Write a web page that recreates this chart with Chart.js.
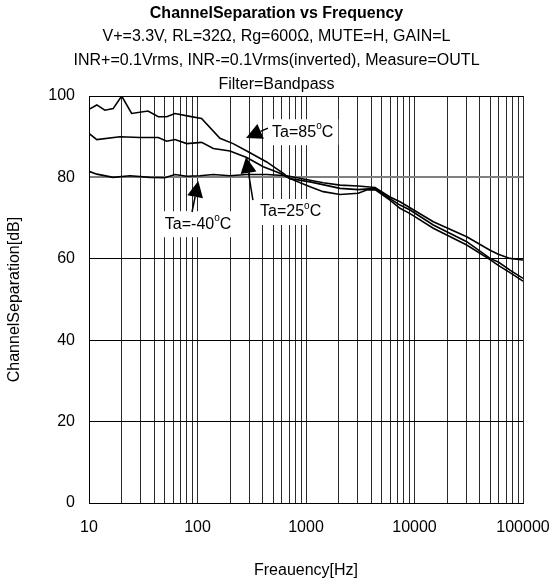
<!DOCTYPE html>
<html>
<head>
<meta charset="utf-8">
<script src="https://cdn.jsdelivr.net/npm/chart.js@4.4.1/dist/chart.umd.min.js"></script>
<style>
  html, body { margin: 0; padding: 0; background: #fff; }
  #wrap { width: 553px; height: 584px; position: relative; }
</style>
</head>
<body>
<div id="wrap"><canvas id="chartSeparation"></canvas></div>
<script>
(function() {
  'use strict';

  const FONT = '"Liberation Sans", Arial, sans-serif';

  // Ta=85°C (upper curve at low frequency)
  const freq85 = [10, 11.8, 14, 16.7, 20, 24.7, 35, 43.5, 52, 62, 85, 109, 161, 213, 293, 434, 618, 713,
    1090, 1440, 2060, 3030, 3620, 4330, 5940, 7350, 9100, 14900, 30300, 49700, 59200, 75900, 100000];
  const db85 = [96.7, 97.8, 96.5, 96.9, 100, 95.7, 96.3, 94.9, 94.9, 95.7, 95.0, 94.5, 89.6, 88.3, 86.3, 83.8, 81.0, 79.7,
    77.7, 76.5, 75.8, 76.1, 76.9, 77.0, 74.4, 72.4, 71.1, 67.5, 63.4, 59.8, 58.4, 56.6, 54.5];

  // Ta=25°C
  const freq25 = [10, 11.8, 19.3, 29.5, 43.5, 52, 62, 79.5, 109, 140, 199, 284, 404, 576, 713,
    1090, 2060, 3030, 4330, 5940, 7350, 9100, 14900, 30300, 49700, 59200, 75900, 100000];
  const db25 = [90.8, 89.3, 90.0, 89.8, 89.8, 88.9, 89.3, 88.3, 88.6, 87.1, 86.5, 84.9, 82.6, 81.0, 79.7,
    78.9, 77.3, 77.0, 77.3, 74.8, 73.2, 72.0, 68.3, 64.2, 60.1, 59.2, 57.2, 55.2];

  // Ta=-40°C
  const freqM40 = [10, 11.8, 16.7, 23.9, 36.4, 50, 62, 79.5, 105, 140, 199, 284, 434, 664,
    1090, 1440, 2060, 3030, 4330, 5940, 7350, 14900, 30300, 49700, 59200, 75900, 100000];
  const dbM40 = [81.5, 80.8, 80.0, 80.4, 80.0, 79.9, 80.7, 80.3, 80.4, 80.7, 80.4, 80.7, 80.7, 80.4,
    79.3, 78.7, 78.1, 77.9, 77.5, 75.2, 74.0, 69.1, 65.4, 62.1, 61.1, 60.1, 59.7];

  const xTicks = [10, 20, 30, 40, 50, 60, 70, 80, 90,
    100, 200, 300, 400, 500, 600, 700, 800, 900,
    1000, 2000, 3000, 4000, 5000, 6000, 7000, 8000, 9000,
    10000, 20000, 30000, 40000, 50000, 60000, 70000, 80000, 90000, 100000];
  const xLabels = [10, 100, 1000, 10000, 100000];
  const yTicks = [0, 20, 40, 60, 80, 100];

  const chartTitle = 'ChannelSeparation vs Frequency';
  const subTitles = [
    'V+=3.3V, RL=32\u03A9, Rg=600\u03A9, MUTE=H, GAIN=L',
    'INR+=0.1Vrms, INR-=0.1Vrms(inverted), Measure=OUTL',
    'Filter=Bandpass'
  ];

  // etiquetas de temperatura: texto, posicion (freq, dB), punta y cola de la flecha
  const notes = [
    { text: 'Ta=85', at: [487, 91.1], tip: [280, 89.7], tail: [446, 92.1] },
    { text: 'Ta=25', at: [377, 71.5], tip: [280, 85.0], tail: [324, 74.4] },
    { text: 'Ta=-40', at: [50, 68.5], tip: [101.7, 79.1], tail: [89, 71.5] }
  ];

  function toPoints(xs, ys) {
    return xs.map((x, i) => ({ x: x, y: ys[i] }));
  }

  const headerPlugin = {
    id: 'header',
    afterDraw(chart) {
      const ctx = chart.ctx;
      const cx = chart.width / 2;
      ctx.save();
      ctx.fillStyle = '#000';
      ctx.textAlign = 'center';
      ctx.textBaseline = 'middle';
      ctx.font = 'bold 16px ' + FONT;
      ctx.fillText(chartTitle, cx, 14);
      ctx.font = '16px ' + FONT;
      subTitles.forEach((t, i) => ctx.fillText(t, cx, 37 + i * 24));
      ctx.restore();
    }
  };

  const notesPlugin = {
    id: 'notes',
    afterDatasetsDraw(chart) {
      const ctx = chart.ctx;
      const xs = chart.scales.x;
      const ys = chart.scales.y;
      ctx.save();
      notes.forEach(n => {
        const lx = xs.getPixelForValue(n.at[0]);
        const ly = ys.getPixelForValue(n.at[1]);
        ctx.font = '16px ' + FONT;
        const w1 = ctx.measureText(n.text).width;
        ctx.font = '10px ' + FONT;
        const w2 = ctx.measureText('o').width;
        ctx.font = '16px ' + FONT;
        const w3 = ctx.measureText('C').width;
        const w = w1 + w2 + w3;

        // fondo blanco que tapa la rejilla
        ctx.fillStyle = '#fff';
        ctx.fillRect(lx - 5, ly - 13, w + 10, 26);

        ctx.fillStyle = '#000';
        ctx.textAlign = 'left';
        ctx.textBaseline = 'middle';
        ctx.font = '16px ' + FONT;
        ctx.fillText(n.text, lx, ly);
        ctx.font = '10px ' + FONT;
        ctx.fillText('o', lx + w1, ly - 6);
        ctx.font = '16px ' + FONT;
        ctx.fillText('C', lx + w1 + w2, ly);

        // flecha
        const tx = xs.getPixelForValue(n.tip[0]);
        const ty = ys.getPixelForValue(n.tip[1]);
        const bx = xs.getPixelForValue(n.tail[0]);
        const by = ys.getPixelForValue(n.tail[1]);
        const ang = Math.atan2(ty - by, tx - bx);
        const len = 16;
        const half = 8;
        const hx = tx - Math.cos(ang) * len;
        const hy = ty - Math.sin(ang) * len;
        ctx.strokeStyle = '#000';
        ctx.lineWidth = 1.5;
        ctx.beginPath();
        ctx.moveTo(bx, by);
        ctx.lineTo(hx, hy);
        ctx.stroke();
        ctx.beginPath();
        ctx.moveTo(tx, ty);
        ctx.lineTo(hx + Math.sin(ang) * half, hy - Math.cos(ang) * half);
        ctx.lineTo(hx - Math.sin(ang) * half, hy + Math.cos(ang) * half);
        ctx.closePath();
        ctx.fill();
      });
      ctx.restore();
    }
  };

  function lineSet(label, xs, ys) {
    return {
      label: label,
      data: toPoints(xs, ys),
      borderColor: '#000',
      borderWidth: 1.6,
      pointRadius: 0,
      tension: 0,
      fill: false
    };
  }

  const ctx = document.getElementById('chartSeparation').getContext('2d');
  new Chart(ctx, {
    type: 'line',
    data: {
      datasets: [
        lineSet('Ta=85°C', freq85, db85),
        lineSet('Ta=25°C', freq25, db25),
        lineSet('Ta=-40°C', freqM40, dbM40)
      ]
    },
    options: {
      responsive: true,
      maintainAspectRatio: false,
      animation: false,
      layout: { padding: { top: 96, right: 30, left: 0, bottom: 0 } },
      plugins: {
        legend: { display: false },
        tooltip: { enabled: false }
      },
      scales: {
        x: {
          type: 'logarithmic',
          min: 10,
          max: 100000,
          afterBuildTicks: function(scale) {
            scale.ticks = xTicks.map(v => ({ value: v }));
          },
          afterFit: function(scale) {
            scale.height = 81;
            scale.paddingLeft = 0;
            scale.paddingRight = 0;
          },
          ticks: {
            autoSkip: false,
            maxRotation: 0,
            padding: 15,
            color: '#000',
            font: { family: FONT, size: 16 },
            callback: function(value) {
              return xLabels.indexOf(value) >= 0 ? String(value) : '';
            }
          },
          grid: {
            color: '#2a2a2a',
            lineWidth: 1,
            drawTicks: false
          },
          border: { display: true, color: '#000', width: 1 },
          title: {
            display: true,
            text: 'Freauency[Hz]',
            color: '#000',
            font: { family: FONT, size: 16 },
            padding: { top: 0, bottom: 4 }
          }
        },
        y: {
          min: 0,
          max: 100,
          afterBuildTicks: function(scale) {
            scale.ticks = yTicks.map(v => ({ value: v }));
          },
          afterFit: function(scale) {
            scale.width = 89;
            scale.paddingTop = 0;
            scale.paddingBottom = 0;
          },
          ticks: {
            padding: 14,
            color: '#000',
            font: { family: FONT, size: 16 }
          },
          grid: {
            color: function(c) {
              return c.tick && c.tick.value === 80 ? '#808080' : '#000';
            },
            lineWidth: function(c) {
              return c.tick && c.tick.value === 80 ? 2 : 1;
            },
            drawTicks: false
          },
          border: { display: true, color: '#000', width: 1 },
          title: {
            display: true,
            text: 'ChannelSeparation[dB]',
            color: '#000',
            font: { family: FONT, size: 16 },
            padding: { top: 5, bottom: 0 }
          }
        }
      }
    },
    plugins: [headerPlugin, notesPlugin]
  });
})();
</script>
</body>
</html>
